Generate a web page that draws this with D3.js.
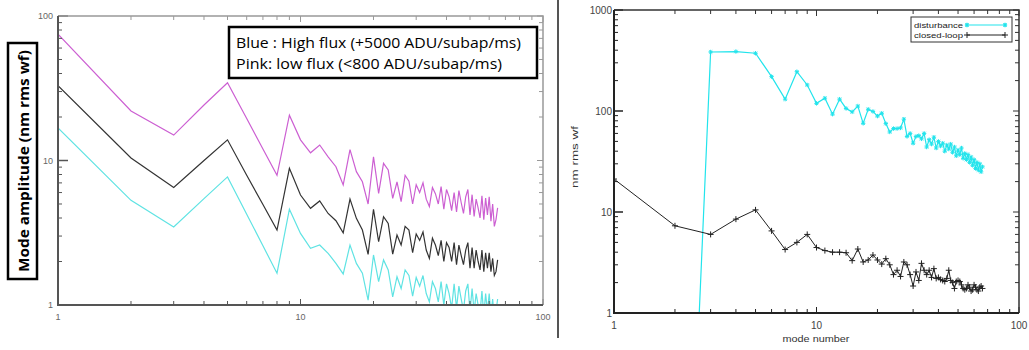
<!DOCTYPE html>
<html>
<head>
<meta charset="utf-8">
<script src="https://cdn.jsdelivr.net/npm/d3@7"></script>
<style>
  body { margin: 0; background: #fff; }
  svg { display: block; }
</style>
</head>
<body>
<div id="chart"></div>
<script>
// left panel: mode amplitude per mode, three flux levels
let leftModes = d3.range(1, 66);
let pinkValues = [75, 22, 15, 24.2, 34.5, 19.5, 12.0, 7.9, 20.6, 13.9,
  11.3, 12.8, 10.6, 9.06, 6.77, 11.9, 8.37, 7.13, 5.0, 10.6,
  5.93, 9.56, 8.6, 5.47, 7.1, 5.2, 7.9, 7.2, 5.0, 6.8,
  6.0, 7.0, 5.4, 4.8, 6.5, 5.9, 5.0, 6.6, 4.6, 6.3,
  5.6, 4.5, 6.0, 4.4, 6.2, 5.1, 4.3, 5.6, 6.3, 4.2,
  5.8, 4.1, 5.4, 4.7, 4.0, 5.7, 3.9, 5.5, 4.2, 5.6,
  3.8, 5.0, 3.5, 3.9, 4.7];
let blackValues = [33, 10.4, 6.5, 10.0, 13.9, 7.9, 4.96, 3.3, 8.83, 5.77,
  4.67, 5.25, 4.3, 3.83, 3.16, 5.4, 3.98, 3.3, 2.24, 4.6,
  2.74, 4.08, 3.67, 2.25, 3.05, 2.6, 3.5, 3.3, 2.3, 3.1,
  2.8, 3.2, 2.4, 2.1, 2.9, 2.6, 2.2, 2.8, 2.0, 2.7,
  2.5, 2.0, 2.7, 1.9, 2.6, 2.2, 1.9, 2.4, 2.7, 1.8,
  2.5, 1.8, 2.4, 2.0, 1.75, 2.4, 1.7, 2.3, 1.8, 2.3,
  1.7, 2.1, 1.6, 1.7, 2.05];
let blueValues = [16.8, 5.3, 3.47, 5.45, 7.7, 4.25, 2.57, 1.66, 4.6, 3.13,
  2.47, 2.6, 2.28, 1.94, 1.64, 2.6, 1.94, 1.66, 1.08, 2.22,
  1.45, 2.05, 1.75, 1.14, 1.57, 1.3, 1.75, 1.6, 1.15, 1.55,
  1.35, 1.6, 1.2, 1.05, 1.45, 1.3, 1.05, 1.45, 1.0, 1.4,
  1.2, 0.95, 1.4, 0.95, 1.35, 1.1, 0.92, 1.25, 1.4, 0.9,
  1.3, 0.9, 1.2, 1.0, 0.88, 1.25, 0.85, 1.2, 0.9, 1.2,
  0.85, 1.1, 0.8, 0.9, 1.1];
let leftTickValues = [1, 10, 100];
let leftTickLabels = ['1', '10', '100'];
let leftLegend = ['Blue : High flux (+5000 ADU/subap/ms)', 'Pink: low flux (<800 ADU/subap/ms)'];

// right panel: disturbance vs closed-loop
let rightModes = d3.range(1, 67);
let disturbance = [0.000001, 0.000003, 384, 388, 373, 219, 131, 245, 181, 119,
  134, 93, 131, 106, 98, 112, 75.5, 104, 99, 89,
  95, 75, 62, 67, 67, 68, 83, 56, 60, 48,
  56, 57, 53, 60, 44, 52, 47, 55, 43, 50,
  45, 48, 40, 46, 42, 47, 39, 44, 36, 41,
  37, 43, 34, 38, 33, 37, 31, 35, 29, 33,
  27, 31, 26, 30, 25, 28];
let closedLoop = [21.2, 7.3, 6.0, 8.5, 10.5, 6.5, 4.25, 5.0, 6.0, 4.45,
  4.15, 4.0, 4.0, 3.95, 3.3, 4.3, 3.2, 3.35, 3.75, 3.35,
  3.05, 3.45, 3.0, 2.4, 2.65, 2.3, 3.2, 3.0, 2.4, 1.85,
  2.55, 2.1, 3.1, 2.65, 2.4, 2.65, 2.25, 2.75, 2.2, 2.25,
  2.15, 2.1, 2.05, 2.2, 2.65, 2.1, 2.0, 1.75, 2.05, 2.1,
  2.05, 1.9, 1.75, 1.7, 1.75, 1.9, 1.8, 1.65, 1.7, 1.9,
  1.8, 1.7, 1.65, 1.8, 1.85, 1.75];
let rightXTickValues = [1, 10, 100];
let rightXTickLabels = ['1', '10', '100'];
let rightYTickValues = [1, 10, 100, 1000];
let rightYTickLabels = ['1', '10', '100', '1000'];
let rightLegend = ['disturbance', 'closed-loop'];

let width = 1029;
let height = 350;

let svg = d3.select('#chart')
  .append('svg')
  .attr('width', width)
  .attr('height', height);

function isMajor(t) {
  let l = Math.log10(t);
  return Math.abs(l - Math.round(l)) < 1e-9;
}

// box with log ticks on all four sides, pointing inward
function frame(x, y, o) {
  let [x0, x1] = x.range();
  let [y0, y1] = y.range();
  let g = svg.append('g');

  x.ticks().forEach(function(t) {
    let len = isMajor(t) ? o.major : o.minor;
    g.append('line').attr('x1', x(t)).attr('x2', x(t)).attr('y1', y0).attr('y2', y0 - len)
      .attr('stroke', o.nearColor).attr('stroke-width', 1);
    g.append('line').attr('x1', x(t)).attr('x2', x(t)).attr('y1', y1).attr('y2', y1 + len)
      .attr('stroke', o.farColor).attr('stroke-width', 1);
  });
  y.ticks().forEach(function(t) {
    let len = isMajor(t) ? o.majorY : o.minor;
    g.append('line').attr('y1', y(t)).attr('y2', y(t)).attr('x1', x0).attr('x2', x0 + len)
      .attr('stroke', o.nearColor).attr('stroke-width', isMajor(t) ? 1.5 : 1);
    g.append('line').attr('y1', y(t)).attr('y2', y(t)).attr('x1', x1).attr('x2', x1 - (isMajor(t) ? o.major : o.minor))
      .attr('stroke', o.farColor).attr('stroke-width', 1);
  });

  g.append('path')
    .attr('d', `M${x0},${y1}H${x1}V${y0}`)
    .attr('fill', 'none')
    .attr('stroke', o.farColor)
    .attr('stroke-width', o.farWidth);
  g.append('path')
    .attr('d', `M${x0},${y1}V${y0}H${x1}`)
    .attr('fill', 'none')
    .attr('stroke', o.nearColor)
    .attr('stroke-width', o.nearWidth);
}

function clip(id, x, y) {
  let [x0, x1] = x.range();
  let [y0, y1] = y.range();
  svg.append('clipPath').attr('id', id)
    .append('rect')
    .attr('x', x0).attr('y', y1)
    .attr('width', x1 - x0).attr('height', y0 - y1);
  return 'url(#' + id + ')';
}

function asterisk(cx, cy, r) {
  let k = r * 0.75;
  return `M${cx - r},${cy}h${2 * r}M${cx},${cy - r}v${2 * r}` +
    `M${cx - k},${cy - k}l${2 * k},${2 * k}M${cx - k},${cy + k}l${2 * k},${-2 * k}`;
}

function plus(cx, cy, r) {
  return `M${cx - r},${cy}h${2 * r}M${cx},${cy - r}v${2 * r}`;
}

// ---------- left panel ----------
let xL = d3.scaleLog().domain([1, 100]).range([58, 543]);
let yL = d3.scaleLog().domain([1, 100]).range([305, 16]);

let clipL = clip('clipL', xL, yL);
let lineL = d3.line()
  .x((d, i) => xL(leftModes[i]))
  .y(d => yL(d));

let leftSeries = [
  {values: pinkValues, color: '#cc5fd2'},
  {values: blackValues, color: '#333333'},
  {values: blueValues, color: '#5fe3e3'},
];
leftSeries.forEach(function(s) {
  svg.append('path')
    .attr('clip-path', clipL)
    .attr('d', lineL(s.values))
    .attr('fill', 'none')
    .attr('stroke', s.color)
    .attr('stroke-width', 1.2);
});

frame(xL, yL, {nearColor: '#555', farColor: '#999', nearWidth: 2, farWidth: 1.5, major: 6, majorY: 10, minor: 4});

leftTickValues.forEach(function(t, i) {
  svg.append('text')
    .attr('x', 53).attr('y', yL(t) + 3)
    .attr('text-anchor', 'end')
    .attr('font-family', 'Liberation Sans, Arial, sans-serif')
    .attr('font-size', 9)
    .attr('fill', '#666')
    .text(leftTickLabels[i]);
  svg.append('text')
    .attr('x', xL(t)).attr('y', 320)
    .attr('text-anchor', 'middle')
    .attr('font-family', 'Liberation Sans, Arial, sans-serif')
    .attr('font-size', 9)
    .attr('fill', '#666')
    .text(leftTickLabels[i]);
});

// legend box
svg.append('rect')
  .attr('x', 229).attr('y', 27)
  .attr('width', 308).attr('height', 51)
  .attr('fill', '#fff')
  .attr('stroke', '#000')
  .attr('stroke-width', 2.5);
svg.append('text')
  .attr('x', 236).attr('y', 48)
  .attr('font-family', 'Open Sans, sans-serif')
  .attr('font-size', 14.5)
  .attr('textLength', 285).attr('lengthAdjust', 'spacingAndGlyphs')
  .text(leftLegend[0]);
svg.append('text')
  .attr('x', 236).attr('y', 69)
  .attr('font-family', 'Open Sans, sans-serif')
  .attr('font-size', 14.5)
  .attr('textLength', 266).attr('lengthAdjust', 'spacingAndGlyphs')
  .text(leftLegend[1]);

// y label in a box
svg.append('rect')
  .attr('x', 8).attr('y', 43)
  .attr('width', 29).attr('height', 236)
  .attr('fill', 'none')
  .attr('stroke', '#000')
  .attr('stroke-width', 2.5);
svg.append('text')
  .attr('transform', 'translate(23,161) rotate(-90)')
  .attr('text-anchor', 'middle')
  .attr('dominant-baseline', 'central')
  .attr('font-family', 'Open Sans, sans-serif')
  .attr('font-weight', 'bold')
  .attr('font-size', 15)
  .attr('textLength', 222).attr('lengthAdjust', 'spacingAndGlyphs')
  .text('Mode amplitude (nm rms wf)');

// divider
svg.append('line')
  .attr('x1', 558).attr('x2', 558)
  .attr('y1', 0).attr('y2', 338)
  .attr('stroke', '#555')
  .attr('stroke-width', 2);

// ---------- right panel ----------
let xR = d3.scaleLog().domain([1, 100]).range([614, 1019]);
let yR = d3.scaleLog().domain([1, 1000]).range([313, 10]);

let clipR = clip('clipR', xR, yR);
let lineR = d3.line()
  .x((d, i) => xR(rightModes[i]))
  .y(d => yR(d));

let cyanR = '#22e4ec';

svg.append('path')
  .attr('clip-path', clipR)
  .attr('d', lineR(disturbance))
  .attr('fill', 'none')
  .attr('stroke', cyanR)
  .attr('stroke-width', 1.2);
svg.append('path')
  .attr('clip-path', clipR)
  .attr('d', disturbance.map((d, i) => asterisk(xR(rightModes[i]), yR(d), 2.2)).join(''))
  .attr('fill', 'none')
  .attr('stroke', cyanR)
  .attr('stroke-width', 1);

svg.append('path')
  .attr('clip-path', clipR)
  .attr('d', lineR(closedLoop))
  .attr('fill', 'none')
  .attr('stroke', '#222')
  .attr('stroke-width', 1);
svg.append('path')
  .attr('clip-path', clipR)
  .attr('d', closedLoop.map((d, i) => plus(xR(rightModes[i]), yR(d), 3)).join(''))
  .attr('fill', 'none')
  .attr('stroke', '#222')
  .attr('stroke-width', 1);

frame(xR, yR, {nearColor: '#222', farColor: '#333', nearWidth: 2, farWidth: 1.5, major: 6, majorY: 9, minor: 4});

rightYTickValues.forEach(function(t, i) {
  svg.append('text')
    .attr('x', 612).attr('y', yR(t) + 4)
    .attr('text-anchor', 'end')
    .attr('font-family', 'Liberation Sans, Arial, sans-serif')
    .attr('font-size', 10)
    .attr('fill', '#444')
    .text(rightYTickLabels[i]);
});
rightXTickValues.forEach(function(t, i) {
  svg.append('text')
    .attr('x', xR(t)).attr('y', 329)
    .attr('text-anchor', 'middle')
    .attr('font-family', 'Liberation Sans, Arial, sans-serif')
    .attr('font-size', 10)
    .attr('fill', '#444')
    .text(rightXTickLabels[i]);
});

svg.append('text')
  .attr('x', 816).attr('y', 342)
  .attr('text-anchor', 'middle')
  .attr('font-family', 'Liberation Sans, Arial, sans-serif')
  .attr('font-size', 9.5)
  .attr('fill', '#333')
  .attr('textLength', 67).attr('lengthAdjust', 'spacingAndGlyphs')
  .text('mode number');

svg.append('text')
  .attr('transform', 'translate(578,157) rotate(-90)')
  .attr('text-anchor', 'middle')
  .attr('font-family', 'Liberation Sans, Arial, sans-serif')
  .attr('font-size', 8.5)
  .attr('fill', '#333')
  .attr('textLength', 62).attr('lengthAdjust', 'spacingAndGlyphs')
  .text('nm rms wf');

// legend
svg.append('rect')
  .attr('x', 911).attr('y', 17)
  .attr('width', 101).attr('height', 25)
  .attr('fill', '#fff')
  .attr('stroke', '#333')
  .attr('stroke-width', 1);

let legendRows = [
  {label: rightLegend[0], color: cyanR, mark: asterisk, r: 2.2, w: 1.2},
  {label: rightLegend[1], color: '#222', mark: plus, r: 3, w: 1},
];
legendRows.forEach(function(row, i) {
  let yy = 25 + i * 10;
  svg.append('text')
    .attr('x', 963).attr('y', yy + 3)
    .attr('text-anchor', 'end')
    .attr('font-family', 'Liberation Sans, Arial, sans-serif')
    .attr('font-size', 8)
    .attr('fill', '#222')
    .attr('textLength', 49).attr('lengthAdjust', 'spacingAndGlyphs')
    .text(row.label);
  svg.append('path')
    .attr('d', `M967,${yy}H1005` + row.mark(967, yy, row.r) + row.mark(1005, yy, row.r))
    .attr('fill', 'none')
    .attr('stroke', row.color)
    .attr('stroke-width', row.w);
});
</script>
</body>
</html>
